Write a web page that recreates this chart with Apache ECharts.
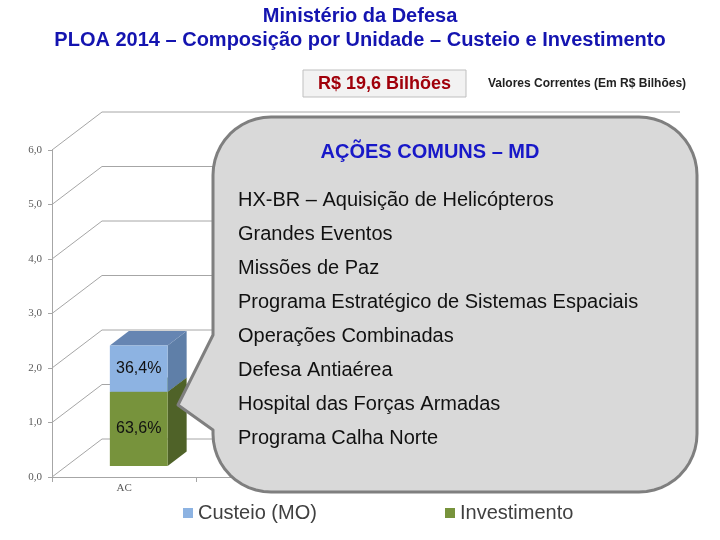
<!DOCTYPE html>
<html><head><meta charset="utf-8">
<script src="https://cdn.jsdelivr.net/npm/echarts@6/dist/echarts.min.js"></script>
<style>html,body{margin:0;padding:0;background:#fff}#c{width:720px;height:540px}</style>
</head><body><div id="c"></div>
<script>
// ---- data ----
const categories = ['AC', '', '', ''];
const investimento = [1.36, null, null, null];
const custeio = [0.85, null, null, null];
const labelsInvestimento = ['63,6%', '', '', ''];
const labelsCusteio = ['36,4%', '', '', ''];
const yTicks = [0, 1, 2, 3, 4, 5, 6];
const titleLines = ['Ministério da Defesa', 'PLOA 2014 – Composição por Unidade – Custeio e Investimento'];
const totalText = 'R$ 19,6 Bilhões';
const unitText = 'Valores Correntes (Em R$ Bilhões)';
const calloutTitle = 'AÇÕES COMUNS – MD';
const acoes = ['HX-BR – Aquisição de Helicópteros', 'Grandes Eventos', 'Missões de Paz',
  'Programa Estratégico de Sistemas Espaciais', 'Operações Combinadas', 'Defesa Antiaérea',
  'Hospital das Forças Armadas', 'Programa Calha Norte'];

// ---- 3D look parameters ----
const DX = 50, DY = -38, F0 = 0.29, F1 = 0.67;

const chart = echarts.init(document.getElementById('c'));

function gridRender(params, api) {
  const cs = params.coordSys;
  const y = api.coord([0, api.value(1)])[1];
  const x0 = cs.x;
  return {
    type: 'polyline', silent: true,
    shape: { points: [[x0, y], [x0 + DX, y + DY], [x0 + cs.width + DX, y + DY]] },
    style: { stroke: '#A6A6A6', lineWidth: 1, fill: null }
  };
}

function makeCuboid(cols, labels) {
  return function (params, api) {
    const cat = api.value(0), lo = api.value(1), hi = api.value(2);
    if (isNaN(lo) || isNaN(hi)) return;
    const pLo = api.coord([cat, lo]), pHi = api.coord([cat, hi]);
    const bw = api.size([1, 0])[0] * 0.4;
    const cx = pLo[0] + F0 * DX;
    const x0 = cx - bw / 2, x1 = cx + bw / 2;
    const yB = pLo[1] + F0 * DY, yT = pHi[1] + F0 * DY;
    const ddx = (F1 - F0) * DX, ddy = (F1 - F0) * DY;
    return {
      type: 'group', children: [
        { type: 'polygon', shape: { points: [[x1, yB], [x1, yT], [x1 + ddx, yT + ddy], [x1 + ddx, yB + ddy]] }, style: { fill: cols.side } },
        { type: 'polygon', shape: { points: [[x0, yT], [x1, yT], [x1 + ddx, yT + ddy], [x0 + ddx, yT + ddy]] }, style: { fill: cols.top } },
        { type: 'rect', shape: { x: x0, y: yT, width: bw, height: yB - yT }, style: { fill: cols.front } },
        { type: 'text', style: { text: labels[params.dataIndex], x: cx, y: (yT + yB) / 2, align: 'center', verticalAlign: 'middle',
            font: '16px "Liberation Sans", Arial, sans-serif', fill: '#111' } }
      ]
    };
  };
}

const invData = investimento.map((v, i) => [i, 0, v == null ? NaN : v]);
const cusData = custeio.map((v, i) => [i, investimento[i] == null ? NaN : investimento[i], (v == null || investimento[i] == null) ? NaN : investimento[i] + v]);

// callout outline as polygon (rounded corners sampled)
const L = 213, T = 117, R = 697, B = 492, r = 58;
function arcPts(cx, cy, a0, a1) {
  const pts = [];
  for (let i = 0; i <= 12; i++) {
    const a = a0 + (a1 - a0) * i / 12;
    pts.push([cx + r * Math.cos(a), cy + r * Math.sin(a)]);
  }
  return pts;
}
const PI = Math.PI;
const calloutPts = [].concat(
  arcPts(R - r, T + r, -PI / 2, 0),
  arcPts(R - r, B - r, 0, PI / 2),
  arcPts(L + r, B - r, PI / 2, PI),
  [[L, 430], [178, 405], [L, 335]],
  arcPts(L + r, T + r, PI, 1.5 * PI)
);

const graphics = [
  { type: 'rect', shape: { x: 303, y: 70, width: 163, height: 27 }, style: { fill: '#F2F2F2', stroke: '#BFBFBF', lineWidth: 1 }, z: 10 },
  { type: 'text', x: 384.5, y: 84, style: { text: totalText, align: 'center', verticalAlign: 'middle', font: 'bold 18px "Liberation Sans", Arial, sans-serif', fill: '#A0000A' }, z: 11 },
  { type: 'text', x: 488, y: 84, style: { text: unitText, align: 'left', verticalAlign: 'middle', font: 'bold 12px "Liberation Sans", Arial, sans-serif', fill: '#222' }, z: 11 },
  { type: 'polygon', shape: { points: calloutPts }, style: { fill: '#D9D9D9', stroke: '#7F7F7F', lineWidth: 3, lineJoin: 'round' }, z: 20 },
  { type: 'text', x: 430, y: 152, style: { text: calloutTitle, align: 'center', verticalAlign: 'middle', font: 'bold 20px "Liberation Sans", Arial, sans-serif', fill: '#1818C8' }, z: 21 }
];
acoes.forEach((t, i) => {
  graphics.push({ type: 'text', x: 238, y: 200 + i * 34, style: { text: t, align: 'left', verticalAlign: 'middle', font: '20px "Liberation Sans", Arial, sans-serif', fill: '#111' }, z: 21 });
});

chart.setOption({
  animation: false,
  backgroundColor: '#fff',
  title: {
    text: titleLines.join('\n'), left: 'center', top: 4, padding: 0,
    textStyle: { fontFamily: '"Liberation Sans", Arial, sans-serif', fontSize: 20, fontWeight: 'bold', color: '#1414B0', lineHeight: 24 }
  },
  grid: { left: 52, right: 90, top: 150, bottom: 63, containLabel: false },
  xAxis: {
    type: 'category', data: categories,
    axisLine: { lineStyle: { color: '#A6A6A6' } },
    axisTick: { show: true, length: 5, lineStyle: { color: '#A6A6A6' } },
    axisLabel: { margin: 6, fontFamily: '"Liberation Serif", "Times New Roman", serif', fontSize: 11, color: '#595959' },
    splitLine: { show: false }
  },
  yAxis: {
    type: 'value', min: 0, max: 6, interval: 1,
    axisLine: { show: true, lineStyle: { color: '#A6A6A6' } },
    axisTick: { show: true, length: 4, lineStyle: { color: '#A6A6A6' } },
    axisLabel: { margin: 10, fontFamily: '"Liberation Serif", "Times New Roman", serif', fontSize: 11, color: '#595959',
      formatter: v => v.toFixed(1).replace('.', ',') },
    splitLine: { show: false }
  },
  legend: [
    { data: ['Custeio (MO)'], left: 178, top: 498, itemWidth: 10, itemHeight: 10, itemGap: 5, icon: 'rect',
      textStyle: { fontFamily: '"Liberation Sans", Arial, sans-serif', fontSize: 20, color: '#404040' } },
    { data: ['Investimento'], left: 440, top: 498, itemWidth: 10, itemHeight: 10, itemGap: 5, icon: 'rect',
      textStyle: { fontFamily: '"Liberation Sans", Arial, sans-serif', fontSize: 20, color: '#404040' } }
  ],
  series: [
    { type: 'custom', name: 'grid3d', silent: true, clip: false, z: 1, renderItem: gridRender,
      data: yTicks.map(v => [0, v]), encode: { x: 0, y: 1 } },
    { type: 'custom', name: 'Investimento', clip: false, z: 3, itemStyle: { color: '#77933C' },
      renderItem: makeCuboid({ front: '#77933C', side: '#4F6228', top: '#5E7A2E' }, labelsInvestimento),
      data: invData, encode: { x: 0, y: [1, 2] } },
    { type: 'custom', name: 'Custeio (MO)', clip: false, z: 4, itemStyle: { color: '#8DB3E2' },
      renderItem: makeCuboid({ front: '#8DB3E2', side: '#5F7FA8', top: '#6685B2' }, labelsCusteio),
      data: cusData, encode: { x: 0, y: [1, 2] } }
  ],
  graphic: graphics
});
</script></body></html>
